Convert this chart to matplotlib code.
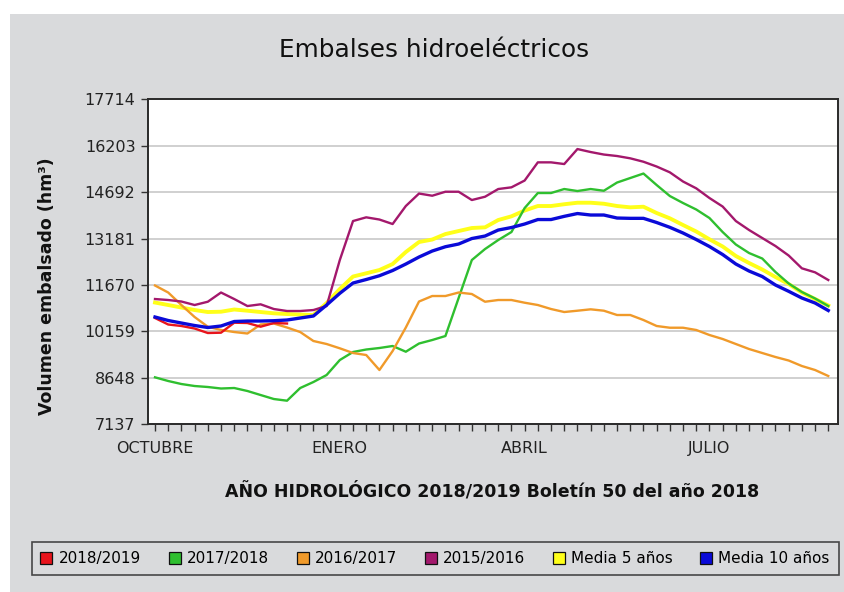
import matplotlib
matplotlib.use("Agg")
from matplotlib import pyplot as plt
from matplotlib.lines import Line2D
from matplotlib.patches import Rectangle

# Weekly reservoir volume (hm3), hydrological year starting in October
weeks = list(range(52))

s2018_2019 = [10596, 10385, 10336, 10254, 10108, 10118, 10443, 10433, 10313, 10433, 10417]

s2017_2018 = [8666, 8546, 8448, 8383, 8351, 8302, 8318, 8221, 8090, 7960, 7905,
              8318, 8513, 8741, 9229, 9490, 9571, 9620, 9685, 9499, 9766, 9880,
              10010, 11247, 12483, 12841, 13134, 13394, 14175, 14664, 14664, 14794,
              14729, 14794, 14738, 15005, 15152, 15298, 14924, 14566, 14338, 14127,
              13850, 13394, 12988, 12711, 12532, 12093, 11719, 11442, 11231, 10986]

s2016_2017 = [11654, 11426, 11019, 10629, 10313, 10206, 10140, 10092, 10385, 10417,
              10287, 10140, 9848, 9750, 9610, 9457, 9392, 8904, 9522, 10287, 11133,
              11312, 11312, 11426, 11377, 11126, 11182, 11182, 11094, 11019, 10889,
              10791, 10834, 10879, 10834, 10694, 10694, 10531, 10336, 10280, 10280,
              10206, 10043, 9913, 9750, 9587, 9457, 9327, 9213, 9034, 8904, 8709]

s2015_2016 = [11214, 11182, 11133, 11019, 11126, 11426, 11214, 10986, 11042, 10889,
              10824, 10824, 10856, 10986, 12483, 13752, 13873, 13801, 13655, 14241,
              14647, 14576, 14706, 14706, 14436, 14543, 14794, 14849, 15070, 15662,
              15662, 15607, 16095, 15998, 15916, 15868, 15793, 15682, 15526, 15337,
              15038, 14816, 14501, 14224, 13752, 13460, 13199, 12939, 12630, 12213,
              12083, 11833]

media5 = [11100, 11019, 10938, 10856, 10791, 10801, 10873, 10834, 10791, 10749, 10726,
          10710, 10694, 11084, 11540, 11946, 12051, 12158, 12353, 12744, 13069, 13150,
          13329, 13427, 13525, 13547, 13785, 13905, 14094, 14241, 14241, 14299, 14348,
          14348, 14315, 14241, 14198, 14218, 14013, 13840, 13622, 13411, 13157, 12923,
          12614, 12386, 12174, 11930, 11702, 11426, 11214, 11003]

media10 = [10629, 10515, 10433, 10352, 10287, 10336, 10482, 10498, 10498, 10508, 10531,
           10596, 10661, 11019, 11400, 11735, 11849, 11972, 12142, 12353, 12581, 12776,
           12916, 13004, 13183, 13264, 13459, 13541, 13655, 13801, 13801, 13905, 13996,
           13948, 13948, 13850, 13840, 13840, 13704, 13547, 13362, 13150, 12923, 12662,
           12353, 12125, 11946, 11670, 11465, 11247, 11084, 10840]

y_ticks = [7137, 8648, 10159, 11670, 13181, 14692, 16203, 17714]
month_pos = [0, 14, 28, 42]
month_labels = ["OCTUBRE", "ENERO", "ABRIL", "JULIO"]

bg = "#d9dadc"
W, H = 844, 592

fig = plt.figure(figsize=(W / 100, H / 100), dpi=100, facecolor="white")
fig.patches.append(Rectangle((10 / W, 0), 1 - 10 / W, 1 - 14 / H,
                             transform=fig.transFigure, facecolor=bg,
                             edgecolor="none", zorder=-10))

ax = fig.add_axes([148 / W, 1 - 424.3 / H, (838.3 - 148) / W, (424.3 - 99.3) / H])
ax.set_facecolor("white")

series = [
    ("2018/2019", s2018_2019, "#e8141c", 1.7, 4),
    ("2017/2018", s2017_2018, "#2fbf2f", 1.7, 3),
    ("2016/2017", s2016_2017, "#f09a2a", 1.7, 3),
    ("2015/2016", s2015_2016, "#a3186c", 1.7, 3),
    ("Media 5 años", media5, "#ffff1a", 2.8, 2),
    ("Media 10 años", media10, "#0a0ad8", 2.4, 5),
]
for name, vals, col, lw, z in series:
    ax.plot(weeks[:len(vals)], vals, color=col, lw=lw, zorder=z,
            solid_joinstyle="round")

ax.set_xlim(-0.53, 51.76)
ax.set_ylim(y_ticks[0], y_ticks[-1])
ax.set_yticks(y_ticks)
ax.set_xticks(month_pos)
ax.set_xticklabels(month_labels)
ax.set_xticks(weeks, minor=True)
ax.grid(axis="y", color="#c4c4c4", lw=1.1, zorder=0)
ax.set_axisbelow(True)
ax.tick_params(axis="both", which="both", direction="out", length=5, width=1,
               color="#333333", labelsize=11.5, labelcolor="#222222")
ax.tick_params(axis="x", which="major", pad=7)
ax.tick_params(axis="y", pad=4)
for sp in ax.spines.values():
    sp.set_color("#2a2a2a")
    sp.set_linewidth(1.4)

fig.text(434 / W, 1 - 50 / H, "Embalses hidroeléctricos", ha="center",
         va="center", fontsize=17.8, color="#111111")
fig.text(47 / W, 1 - 286 / H, "Volumen embalsado (hm³)", rotation=90,
         ha="center", va="center", fontsize=12.5, fontweight="bold",
         color="#111111")
fig.text(492 / W, 1 - 491 / H,
         "AÑO HIDROLÓGICO 2018/2019 Boletín 50 del año 2018",
         ha="center", va="center", fontsize=12.5, fontweight="bold",
         color="#111111")

handles = [Line2D([], [], ls="none", marker="s", markersize=8,
                  markerfacecolor=col, markeredgecolor="#111111",
                  markeredgewidth=0.9, label=name)
           for name, vals, col, lw, z in series]
leg = fig.legend(handles=handles, loc="center",
                 bbox_to_anchor=(435.5 / W, 1 - 558.5 / H), ncol=6,
                 fontsize=11, frameon=True, fancybox=False,
                 handlelength=0.7, handletextpad=0.45, columnspacing=1.85,
                 borderpad=0.6, borderaxespad=0)
leg.get_frame().set_facecolor(bg)
leg.get_frame().set_edgecolor("#222222")
leg.get_frame().set_linewidth(1.2)

fig.savefig("out.png", dpi=100, facecolor=fig.get_facecolor())
